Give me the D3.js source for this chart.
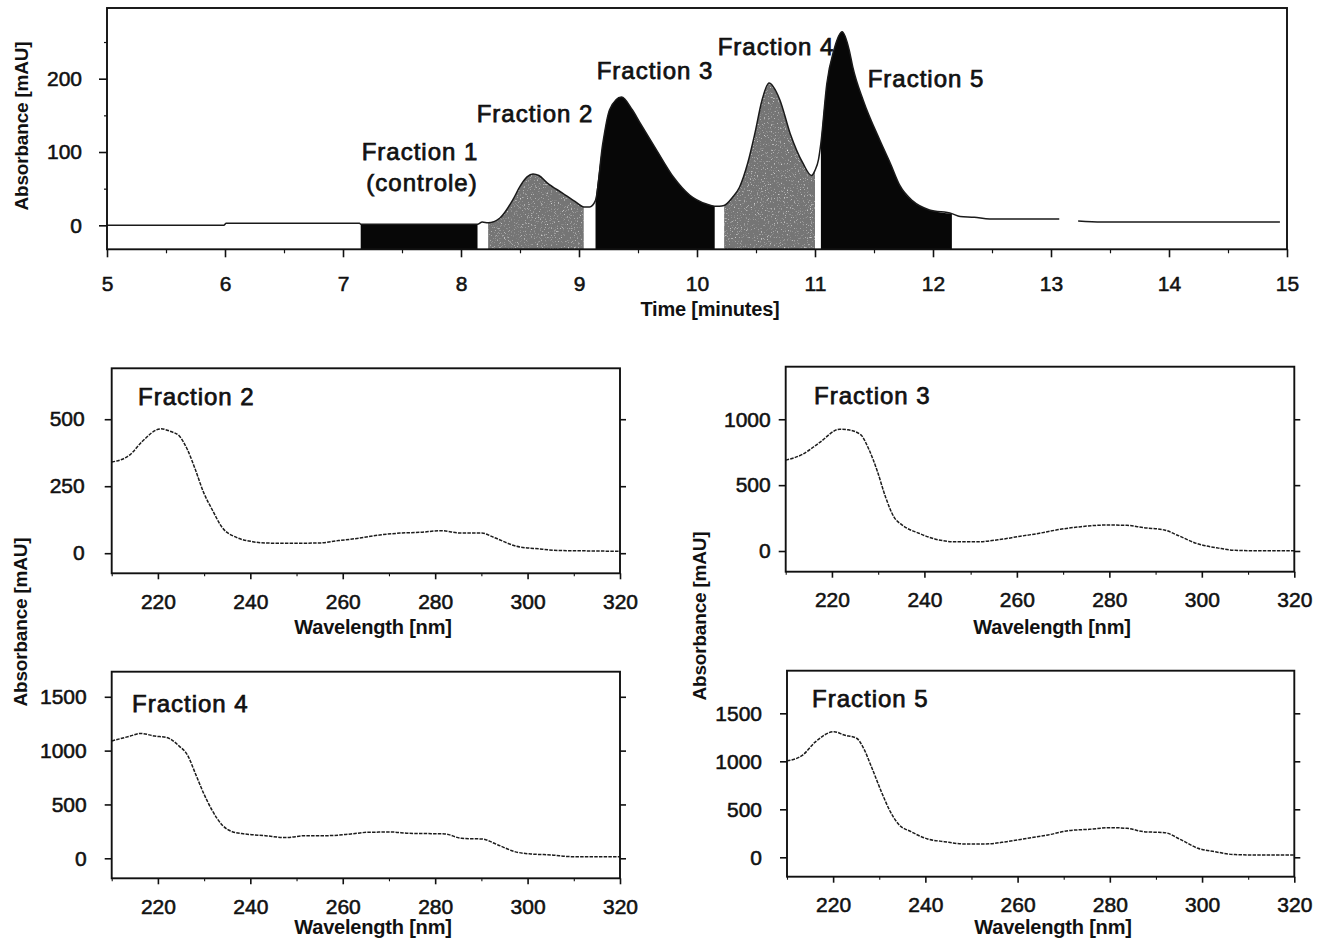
<!DOCTYPE html>
<html>
<head>
<meta charset="utf-8">
<script src="https://cdn.jsdelivr.net/npm/d3@7"></script>
<style>
  body { margin: 0; background: #fff; }
  svg { display: block; }
</style>
</head>
<body>
<svg id="chart" width="1330" height="943">
  <defs>
    <!-- light speckle texture for the grey fractions -->
    <filter id="grain" x="0" y="0" width="100%" height="100%">
      <feTurbulence type="fractalNoise" baseFrequency="0.7" numOctaves="2" seed="7" result="noise"/>
      <feColorMatrix in="noise" type="matrix"
        values="0 0 0 0 1  0 0 0 0 1  0 0 0 0 1  2.4 0 0 0 -1.45" result="spots"/>
      <feComposite in="spots" in2="SourceGraphic" operator="in" result="clipped"/>
      <feMerge><feMergeNode in="SourceGraphic"/><feMergeNode in="clipped"/></feMerge>
    </filter>
  </defs>
</svg>
<script>
// ---------- Chromatogram (absorbance vs. retention time) ----------
const chromTime = [5.00, 5.50, 5.99, 6.01, 6.50, 7.00, 7.14, 7.15, 7.50, 8.00, 8.14, 8.18, 8.23, 8.33, 8.44,
  8.50, 8.56, 8.61, 8.66, 8.73, 8.86, 8.98, 9.04, 9.09, 9.14, 9.20, 9.26, 9.36, 9.45, 9.52,
  9.66, 9.80, 9.94, 10.08, 10.15, 10.19, 10.23, 10.30, 10.36, 10.43, 10.49, 10.55, 10.61, 10.70, 10.79,
  10.90, 10.97, 11.00, 11.03, 11.05, 11.10, 11.16, 11.23, 11.29, 11.32, 11.41, 11.55, 11.64, 11.72,
  11.83, 11.97, 12.16, 12.23, 12.35, 12.48, 13.07, 13.15, 13.23, 13.43, 14.94];
const chromAbs = [0, 0, 0, 2.7, 2.7, 2.7, 2.7, 1.5, 1.5, 1.5, 1.5, 4.5, 3.5, 10, 35,
  53, 66, 70, 68, 58, 44, 31, 25, 25, 34, 110, 158, 175, 158, 139,
  102, 66, 41, 29, 26, 26, 27, 38, 52, 85, 125, 170, 194, 172, 125,
  84, 68, 75, 90, 112, 193, 239, 264, 239, 216, 170, 116, 84, 54,
  33, 21, 16, 12, 11, 8.6, 8.6, NaN, 6, 4.5, 4.5];
const timeTicks = [5, 6, 7, 8, 9, 10, 11, 12, 13, 14, 15];
const timeMinorTicks = [5.5, 6.5, 7.5, 8.5, 9.5, 10.5, 11.5, 12.5, 13.5, 14.5];
const chromAbsTicks = [0, 100, 200];
const chromAbsMinorTicks = [50, 150, 250];

// collected fractions: time windows and shading
const fractionNames = ["Fraction 1", "Fraction 2", "Fraction 3", "Fraction 4", "Fraction 5"];
const fractionStart = [7.15, 8.23, 9.14, 10.23, 11.05];
const fractionEnd = [8.14, 9.04, 10.15, 11.00, 12.16];
const fractionShade = ["dark", "grey", "dark", "grey", "dark"];

// ---------- UV spectra of fractions 2-5 ----------
const wavelengthTicks = [220, 240, 260, 280, 300, 320];
const wavelengthMinorTicks = [210, 230, 250, 270, 290, 310];

const spec2Nm = [210, 214, 216.6, 220.6, 222.8, 224.6, 226.4, 228.1, 229.9, 231.7, 233.9, 237, 240.5, 243.2,
  247.6, 254.7, 259.1, 263.5, 268, 272.4, 276.8, 281.2, 285.7, 290.1, 292.7, 297.6, 302.5, 306.9, 311.3, 320];
const spec2Abs = [340, 368, 417, 464, 454, 438, 386, 312, 226, 164, 96, 59, 43, 38,
  37, 38, 47, 56, 68, 75, 78, 84, 75, 75, 59, 26, 16, 10, 9, 7];
const spec2Ticks = [0, 250, 500];

const spec3Nm = [210, 213.6, 217.2, 221.7, 223.5, 226.2, 228, 229.8, 231.6, 233.4, 235.2, 238.8, 242.4, 246.9,
  251.4, 255.9, 260.4, 264.9, 269.4, 273.9, 279.3, 283.8, 287.4, 291.9, 294.6, 299.1, 303.6, 307.2, 312.6, 320];
const spec3Abs = [690, 733, 820, 925, 920, 883, 771, 608, 409, 259, 197, 135, 90, 70,
  70, 85, 110, 135, 165, 185, 197, 195, 177, 160, 122, 55, 22, 5, 2, 2];
const spec3Ticks = [0, 500, 1000];

const spec4Nm = [210, 214, 216.2, 219.3, 221.9, 224.6, 226.4, 228.1, 229.9, 231.7, 233.9, 236.1, 238.8, 243.2,
  247.6, 252, 256.5, 261.8, 265.3, 270.6, 274.2, 278.6, 282.1, 285.7, 290.1, 293.6, 297.2, 300.7, 305.1, 309.6, 320];
const spec4Abs = [1090, 1135, 1160, 1135, 1122, 1042, 959, 788, 603, 448, 309, 247, 226, 210,
  192, 210, 210, 226, 241, 244, 232, 229, 226, 185, 179, 124, 62, 40, 31, 15, 15];
const spec4Ticks = [0, 500, 1000, 1500];

const spec5Nm = [210, 213.4, 216.1, 220.2, 222.4, 225.1, 226.5, 228.3, 230.6, 232.4, 234.2, 236.9, 240.5, 244.1,
  248.6, 253.1, 257.6, 262.1, 266.6, 271.1, 275.6, 280.1, 283.7, 287.4, 291.9, 295.5, 299.1, 302.7, 307.2, 312.6, 320];
const spec5Abs = [1005, 1065, 1200, 1309, 1274, 1240, 1146, 944, 667, 476, 344, 267, 191, 163,
  139, 139, 163, 198, 233, 278, 292, 309, 302, 267, 257, 181, 94, 59, 28, 24, 24];
const spec5Ticks = [0, 500, 1000, 1500];

// ---------- drawing ----------
const FONT = '"Liberation Sans", Arial, Helvetica, sans-serif';
const INK = "#111";
const svg = d3.select("#chart");

function styleAxis(g, size) {
  g.attr("font-size", size).attr("font-family", FONT);
  g.select(".domain").remove();
  g.selectAll(".tick line").attr("stroke", INK).attr("stroke-width", 1.6);
  g.selectAll(".tick text").attr("fill", INK).attr("stroke", INK).attr("stroke-width", 0.55);
}

function frame(g, box) {
  g.append("rect")
    .attr("x", box.left).attr("y", box.top)
    .attr("width", box.right - box.left).attr("height", box.bottom - box.top)
    .attr("fill", "none").attr("stroke", INK).attr("stroke-width", 1.9);
}

function yTitle(x, y, size) {
  svg.append("text")
    .attr("transform", `translate(${x},${y}) rotate(-90)`)
    .attr("text-anchor", "middle").attr("dominant-baseline", "central")
    .attr("font-family", FONT).attr("font-weight", "bold").attr("font-size", size)
    .attr("letter-spacing", -0.2).attr("fill", INK)
    .text("Absorbance [mAU]");
}

function xTitle(x, y, text) {
  svg.append("text")
    .attr("x", x).attr("y", y)
    .attr("text-anchor", "middle").attr("dominant-baseline", "central")
    .attr("font-family", FONT).attr("font-weight", "bold").attr("font-size", 20)
    .attr("letter-spacing", -0.2).attr("fill", INK)
    .text(text);
}

function fractionLabel(g, x, y, text, anchor) {
  g.append("text")
    .attr("x", x).attr("y", y)
    .attr("text-anchor", anchor).attr("dominant-baseline", "central")
    .attr("font-family", FONT).attr("font-size", 24).attr("letter-spacing", 1)
    .attr("fill", INK).attr("stroke", INK).attr("stroke-width", 0.75)
    .text(text);
}

// ----- chromatogram -----
const topBox = { left: 107, right: 1287, top: 8, bottom: 249.3 };
const xT = d3.scaleLinear().domain([5, 15]).range([topBox.left, topBox.right]);
const yT = d3.scaleLinear().domain([-32.7, 296.4]).range([topBox.bottom, topBox.top]);
const chrom = chromTime.map((t, i) => ({ t, v: chromAbs[i] }));

const gTop = svg.append("g");

fractionStart.forEach((s, i) => {
  const e = fractionEnd[i];
  const area = d3.area()
    .defined(d => d.t >= s - 1e-9 && d.t <= e + 1e-9 && !isNaN(d.v))
    .x(d => xT(d.t))
    .y0(yT(yT.domain()[0]))
    .y1(d => yT(d.v))
    .curve(d3.curveMonotoneX);
  const path = gTop.append("path").datum(chrom).attr("d", area);
  if (fractionShade[i] === "dark") {
    path.attr("fill", "#070707");
  } else {
    path.attr("fill", "#747474").attr("filter", "url(#grain)");
  }
});

const chromLine = d3.line()
  .defined(d => !isNaN(d.v))
  .x(d => xT(d.t)).y(d => yT(d.v))
  .curve(d3.curveMonotoneX);
gTop.append("path").datum(chrom)
  .attr("d", chromLine)
  .attr("fill", "none").attr("stroke", "#1a1a1a").attr("stroke-width", 1.5);

frame(gTop, topBox);

gTop.append("g").attr("transform", `translate(0,${topBox.bottom})`)
  .call(d3.axisBottom(xT).tickValues(timeTicks).tickSize(8).tickPadding(18.5).tickFormat(d3.format("d")))
  .call(g => styleAxis(g, 21));
gTop.append("g").attr("transform", `translate(0,${topBox.bottom})`)
  .call(d3.axisBottom(xT).tickValues(timeMinorTicks).tickSize(4).tickFormat(""))
  .call(g => styleAxis(g, 21))
  .call(g => g.selectAll(".tick line").attr("stroke-width", 1.2));
gTop.append("g").attr("transform", `translate(${topBox.left},0)`)
  .call(d3.axisLeft(yT).tickValues(chromAbsTicks).tickSize(8).tickPadding(17).tickFormat(d3.format("d")))
  .call(g => styleAxis(g, 21));
gTop.append("g").attr("transform", `translate(${topBox.left},0)`)
  .call(d3.axisLeft(yT).tickValues(chromAbsMinorTicks).tickSize(3).tickFormat(""))
  .call(g => styleAxis(g, 21))
  .call(g => g.selectAll(".tick line").attr("stroke-width", 1.2));

yTitle(21.5, 126, 19);
xTitle(710, 309, "Time [minutes]");

// fraction names above their peaks
const fractionLabelPos = [[420, 151], [535, 113], [655, 70], [776, 46], [926, 78]];
fractionNames.forEach((n, i) => fractionLabel(gTop, fractionLabelPos[i][0], fractionLabelPos[i][1], n, "middle"));
fractionLabel(gTop, 422, 182, "(controle)", "middle");

// ----- spectra panels -----
const panels = [
  { name: fractionNames[1], nm: spec2Nm, abs: spec2Abs, ticks: spec2Ticks, domain: [-75, 690],
    box: { left: 111.7, right: 620, top: 368.3, bottom: 573.3 }, pad: 20, nameXY: [138, 396.5], titleXY: [373, 627] },
  { name: fractionNames[2], nm: spec3Nm, abs: spec3Abs, ticks: spec3Ticks, domain: [-157, 1399],
    box: { left: 785.7, right: 1294.3, top: 366.7, bottom: 571.7 }, pad: 8, nameXY: [814, 395], titleXY: [1052, 627] },
  { name: fractionNames[3], nm: spec4Nm, abs: spec4Abs, ticks: spec4Ticks, domain: [-186, 1733],
    box: { left: 111.7, right: 620, top: 671.7, bottom: 878.3 }, pad: 18, nameXY: [132, 703], titleXY: [373, 927] },
  { name: fractionNames[4], nm: spec5Nm, abs: spec5Abs, ticks: spec5Ticks, domain: [-202, 1944],
    box: { left: 787, right: 1294.3, top: 670.7, bottom: 876.7 }, pad: 18, nameXY: [812, 698], titleXY: [1053, 927] }
];

panels.forEach(p => {
  const g = svg.append("g");
  const x = d3.scaleLinear().domain([210, 320]).range([p.box.left, p.box.right]);
  const y = d3.scaleLinear().domain(p.domain).range([p.box.bottom, p.box.top]);
  const pts = p.nm.map((w, i) => ({ w, a: p.abs[i] }));

  g.append("path").datum(pts)
    .attr("d", d3.line().x(d => x(d.w)).y(d => y(d.a)).curve(d3.curveMonotoneX))
    .attr("fill", "none").attr("stroke", "#1c1c1c").attr("stroke-width", 1.5)
    .attr("stroke-dasharray", "3.5 1.2");

  frame(g, p.box);

  g.append("g").attr("transform", `translate(0,${p.box.bottom})`)
    .call(d3.axisBottom(x).tickValues(wavelengthTicks).tickSize(6).tickPadding(14.5).tickFormat(d3.format("d")))
    .call(a => styleAxis(a, 21));
  g.append("g").attr("transform", `translate(0,${p.box.bottom})`)
    .call(d3.axisBottom(x).tickValues(wavelengthMinorTicks).tickSize(3).tickFormat(""))
    .call(a => styleAxis(a, 21))
    .call(a => a.selectAll(".tick line").attr("stroke-width", 1.1));
  g.append("g").attr("transform", `translate(${p.box.left},0)`)
    .call(d3.axisLeft(y).tickValues(p.ticks).tickSize(7).tickPadding(p.pad).tickFormat(d3.format("d")))
    .call(a => styleAxis(a, 21));
  g.append("g").attr("transform", `translate(${p.box.right},0)`)
    .call(d3.axisRight(y).tickValues(p.ticks).tickSize(6).tickFormat(""))
    .call(a => styleAxis(a, 21));

  fractionLabel(g, p.nameXY[0], p.nameXY[1], p.name, "start");
  xTitle(p.titleXY[0], p.titleXY[1], "Wavelength [nm]");
});

yTitle(20, 622, 19);
yTitle(699, 616, 19);
</script>
</body>
</html>
